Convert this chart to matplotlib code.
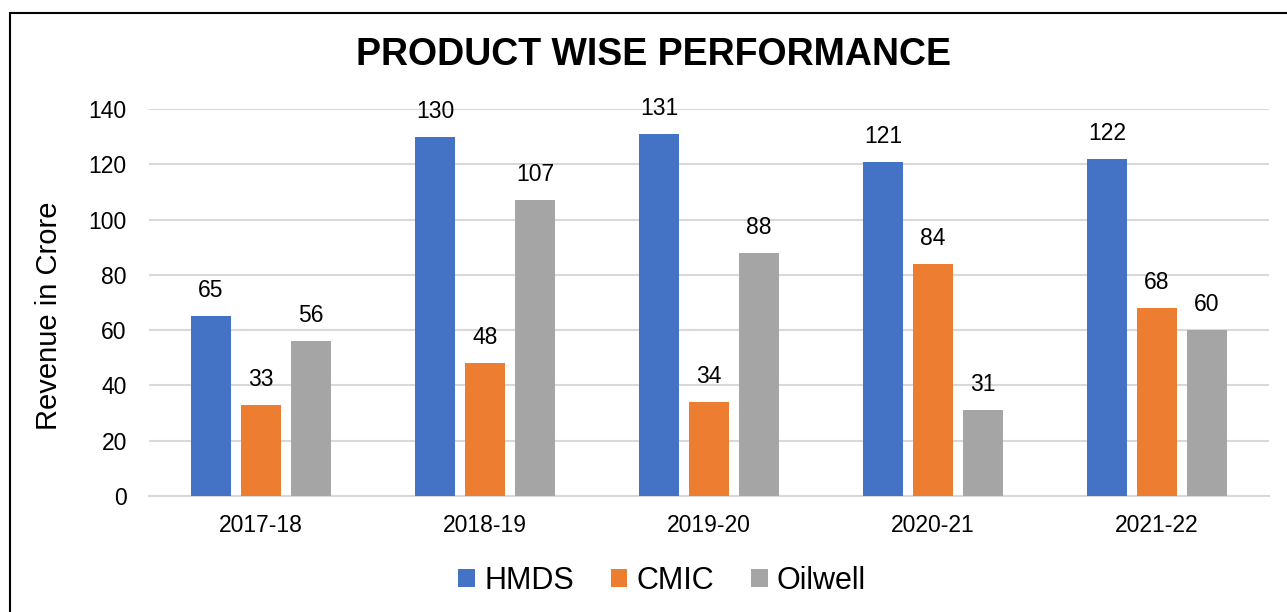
import matplotlib.pyplot as plt
import numpy as np
from matplotlib.patches import Rectangle

plt.rcParams['font.family'] = ['Liberation Sans', 'DejaVu Sans']

# data
years = ['2017-18', '2018-19', '2019-20', '2020-21', '2021-22']
hmds = [65, 130, 131, 121, 122]
cmic = [33, 48, 34, 84, 68]
oilwell = [56, 107, 88, 31, 60]

series = [('HMDS', hmds, '#4472C4'),
          ('CMIC', cmic, '#ED7D31'),
          ('Oilwell', oilwell, '#A5A5A5')]

W, H = 1287, 612
fig = plt.figure(figsize=(W / 100, H / 100), dpi=100)
ax = fig.add_axes([149 / W, 1 - 496 / H, (1269 - 149) / W, (496 - 109) / H])

x = np.arange(len(years))
width = 0.178
step = 0.223
for i, (name, vals, col) in enumerate(series):
    bars = ax.bar(x + (i - 1) * step, vals, width, color=col, label=name, zorder=3)
    ax.bar_label(bars, labels=[str(v) for v in vals], padding=10, fontsize=16.5)

ax.set_xlim(-0.5, len(years) - 0.5)
ax.set_ylim(0, 140)
ax.set_yticks(range(0, 141, 20))
ax.set_xticks(x)
ax.set_xticklabels(years)
ax.tick_params(axis='both', length=0, labelsize=16.5)
ax.tick_params(axis='y', pad=16)
ax.tick_params(axis='x', pad=13)
ax.grid(axis='y', color='#D9D9D9', linewidth=1.5, zorder=0)
for s in ['top', 'right', 'left']:
    ax.spines[s].set_visible(False)
ax.spines['bottom'].set_color('#D9D9D9')
ax.spines['bottom'].set_linewidth(1.5)

fig.text(49 / W, 1 - 316 / H, 'Revenue in Crore', rotation=90, fontsize=21,
         ha='center', va='center')
fig.text(654 / W, 1 - 55 / H, 'PRODUCT WISE PERFORMANCE', fontsize=27,
         fontweight='bold', ha='center', va='center')

fig.legend(loc='center', bbox_to_anchor=(662 / W, 1 - 581 / H), ncol=3,
           frameon=False, fontsize=22, handlelength=0.55, handleheight=0.55,
           handletextpad=0.3, columnspacing=1.2)

fig.patches.append(Rectangle((10 / W, -0.1), 1.2, 1.1 - 13 / H,
                             transform=fig.transFigure, fill=False,
                             edgecolor='black', linewidth=1.5))

fig.savefig('out.png', dpi=100)
